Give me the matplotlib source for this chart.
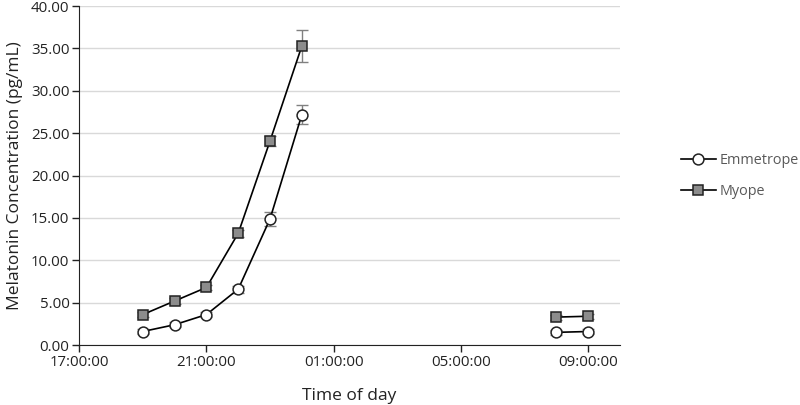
import matplotlib.pyplot as plt
import numpy as np

plt.rcParams['font.family'] = ['Open Sans', 'DejaVu Sans']

# hours since midnight of day 1 (24 = 00:00, 32 = 08:00 next day)
hours = [19, 20, 21, 22, 23, 24, 32, 33]
emmetrope = [1.6, 2.4, 3.6, 6.6, 14.9, 27.2, 1.5, 1.6]
emmetrope_err = [0.3, 0.3, 0.3, 0.4, 0.8, 1.1, 0.3, 0.3]
myope = [3.6, 5.2, 6.8, 13.2, 24.1, 35.3, 3.3, 3.4]
myope_err = [0.3, 0.3, 0.3, 0.4, 0.6, 1.9, 0.3, 0.3]
tick_hours = [17, 21, 25, 29, 33]
tick_labels = ['17:00:00', '21:00:00', '01:00:00', '05:00:00', '09:00:00']
y_ticks = [0, 5, 10, 15, 20, 25, 30, 35, 40]

# evening series and morning series are not joined
segments = [slice(0, 6), slice(6, 8)]

fig = plt.figure(figsize=(8, 4.05), dpi=100)
ax = fig.add_axes([0.099, 0.148, 0.676, 0.837])

x = np.array(hours, dtype=float)
series = [
    (emmetrope, emmetrope_err, 'o', 'white', 'Emmetrope'),
    (myope, myope_err, 's', '#8c8c8c', 'Myope'),
]
for vals, errs, mk, fc, name in series:
    vals = np.array(vals)
    errs = np.array(errs)
    ax.errorbar(x, vals, yerr=errs, fmt='none', ecolor='#808080',
                elinewidth=1.0, capsize=4, capthick=1.0, zorder=2)
    for i, seg in enumerate(segments):
        ax.plot(x[seg], vals[seg], color='black', lw=1.2, marker=mk,
                markersize=7.8 if mk == 'o' else 7.3, markerfacecolor=fc,
                markeredgecolor='#222222', markeredgewidth=1.1,
                label=name if i == 0 else None, zorder=3)

ax.set_xlim(17, 34)
ax.set_ylim(0, 40)
ax.set_xticks(tick_hours)
ax.set_xticklabels(tick_labels)
ax.set_yticks(y_ticks)
ax.set_yticklabels(['%.2f' % v for v in y_ticks])
ax.tick_params(labelsize=10.8, colors='#222222', length=5, width=1, pad=2)
ax.grid(axis='y', color='#d9d9d9', lw=1)
ax.set_axisbelow(True)
for s in ['top', 'right']:
    ax.spines[s].set_visible(False)
for s in ['left', 'bottom']:
    ax.spines[s].set_color('#222222')

ax.set_xlabel('Time of day', fontsize=12.5, color='#222222', labelpad=13)
ax.set_ylabel('Melatonin Concentration (pg/mL)', fontsize=12.5, color='#222222', labelpad=6)

fig.legend(loc='center left', bbox_to_anchor=(0.835, 0.565), frameon=False,
           fontsize=10.4, labelcolor='#595959', labelspacing=1.1, handlelength=2.4,
           handletextpad=0.3)

fig.savefig('out.png')
